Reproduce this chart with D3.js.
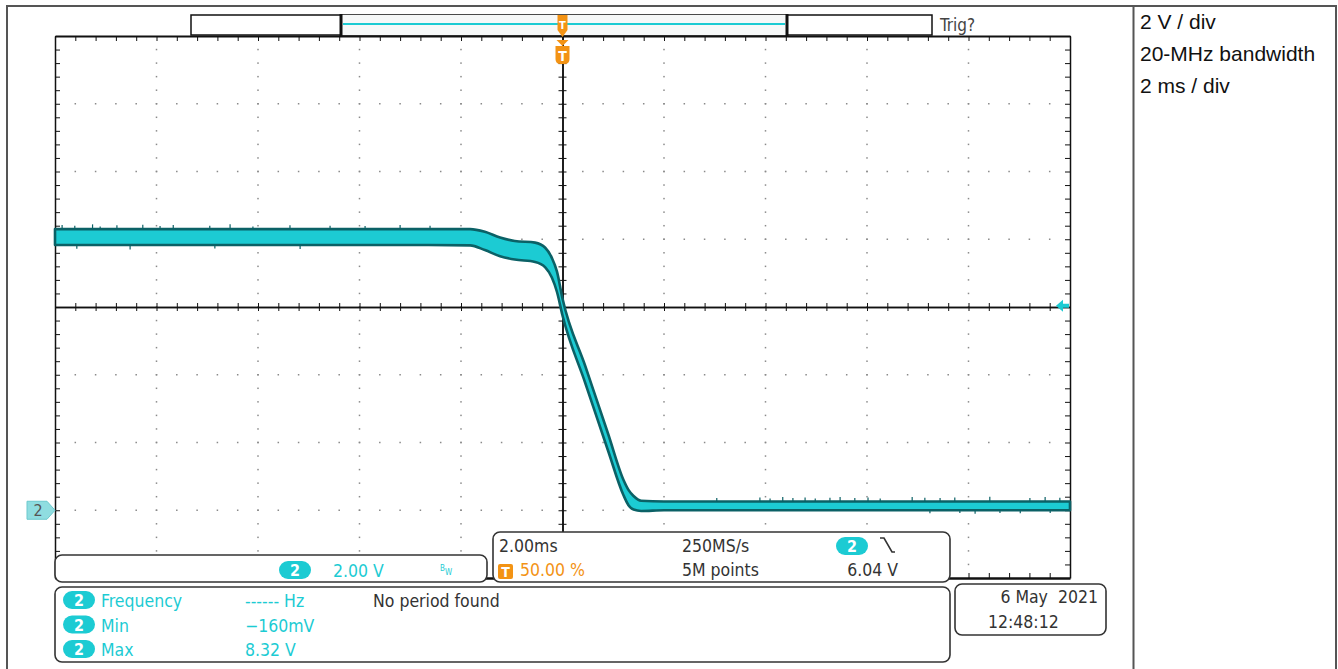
<!DOCTYPE html>
<html>
<head>
<meta charset="utf-8">
<script src="https://cdn.jsdelivr.net/npm/d3@7"></script>
<style>
  html, body { margin: 0; padding: 0; background: #fff; }
  svg { display: block; }
  .scope { font-family: 'DejaVu Sans Condensed', 'DejaVu Sans', sans-serif; font-stretch: condensed; }
  .note { font-family: 'Liberation Sans', Arial, sans-serif; }
</style>
</head>
<body>
<svg id="chart" width="1338" height="669"></svg>
<script>
// Channel 2 capture: time in ms relative to trigger, envelope of the trace in volts
const timeMs = [-10, -6, -3, -1.82, -1.53, -1.23, -0.94, -0.54, -0.34, -0.21, -0.11, 0, 0.45, 0.9, 1.2, 1.3, 1.4, 1.55, 2, 6, 10];
const upperV = [8.30, 8.30, 8.30, 8.30, 8.22, 8.05, 7.95, 7.90, 7.75, 7.45, 7.05, 6.25, 4.25, 2.25, 0.90, 0.60, 0.42, 0.28, 0.26, 0.26, 0.26];
const lowerV = [7.83, 7.83, 7.83, 7.82, 7.68, 7.50, 7.40, 7.33, 7.17, 6.87, 6.45, 5.75, 3.75, 1.75, 0.45, 0.15, 0.02, -0.02, 0.00, 0.00, 0.00];

// Noise glitches on the envelope edges: time (ms) and glitch extreme (V)
const glitchTimeMs = [-9.86, -9.61, -9.26, -9.11, -8.78, -8.27, -7.93, -7.67, -6.95, -6.55, -6.10, -5.37, -4.58, -3.89, -3.20, -2.61,
                      -9.57, -8.52, -6.85, -5.17,
                      3.04, 3.89, 4.09, 4.34, 4.54, 4.78, 4.98, 5.27, 5.47, 5.76, 6.02, 6.26, 6.89, 7.14, 7.44, 7.73, 8.42, 9.21, 9.51, 9.80,
                      7.24, 7.83, 8.13, 8.62, 9.02, 9.61];
const glitchBaseV = [8.30, 8.30, 8.30, 8.30, 8.30, 8.30, 8.30, 8.30, 8.30, 8.30, 8.30, 8.30, 8.30, 8.30, 8.30, 8.30,
                     7.83, 7.83, 7.83, 7.83,
                     0.26, 0.26, 0.26, 0.26, 0.26, 0.26, 0.26, 0.26, 0.26, 0.26, 0.26, 0.26, 0.26, 0.26, 0.26, 0.26, 0.26, 0.26, 0.26, 0.26,
                     0.00, 0.00, 0.00, 0.00, 0.00, 0.00];
const glitchPeakV = [8.42, 8.40, 8.44, 8.38, 8.41, 8.43, 8.39, 8.42, 8.40, 8.44, 8.38, 8.41, 8.40, 8.39, 8.42, 8.40,
                     7.72, 7.70, 7.73, 7.71,
                     0.36, 0.38, 0.35, 0.39, 0.36, 0.38, 0.35, 0.37, 0.39, 0.36, 0.38, 0.35, 0.39, 0.37, 0.36, 0.38, 0.40, 0.36, 0.39, 0.37,
                     -0.09, -0.08, -0.10, -0.08, -0.09, -0.08];

// Screen settings
const timeRangeMs = [-10, 10];      // 2 ms/div, 10 divisions
const voltRange = [-2, 14];         // 2 V/div, 8 divisions, ground 4 div below centre
const majorTimeTicks = d3.range(-10, 10.001, 2);
const minorTimeTicks = d3.range(-10, 10.001, 0.4);
const majorVoltTicks = d3.range(-2, 14.001, 2);
const minorVoltTicks = d3.range(-2, 14.001, 0.4);
const triggerLevelV = 6.04;
const centreVolt = 6;

// Readouts
const sideNotes = ["2 V / div", "20-MHz bandwidth", "2 ms / div"];
const measureNames = ["Frequency", "Min", "Max"];
const measureValues = ["------ Hz", "\u2212160mV", "8.32 V"];
const horizontalInfo = ["2.00ms", "250MS/s", "5M points", "6.04 V"];
const triggerPosition = "50.00 %";
const verticalScale = "2.00 V";
const dateLines = ["6 May\u00a0 2021", "12:48:12"];

const CYAN = "#1ccbd3";
const TEAL = "#0b6166";
const ORANGE = "#f39314";
const INK = "#333";

const svg = d3.select("#chart");
svg.append("rect").attr("width", 1338).attr("height", 669).attr("fill", "#fff");

// Page frame and side panel
svg.append("rect").attr("x", 7).attr("y", 6).attr("width", 1329).attr("height", 670)
  .attr("fill", "none").attr("stroke", "#555").attr("stroke-width", 2);
svg.append("line").attr("x1", 1133.5).attr("x2", 1133.5).attr("y1", 6).attr("y2", 669)
  .attr("stroke", "#555").attr("stroke-width", 2);
svg.append("g").attr("class", "note").selectAll("text").data(sideNotes).join("text")
  .attr("x", 1140).attr("y", (d, i) => 29 + i * 32)
  .attr("font-size", 21).attr("fill", "#111").text(d => d);

const plotLeft = 55, plotRight = 1070, plotTop = 36, plotBottom = 578;
const x = d3.scaleLinear().domain(timeRangeMs).range([plotLeft, plotRight]);
const y = d3.scaleLinear().domain(voltRange).range([plotBottom, plotTop]);

// Dotted graticule
const grid = svg.append("g").attr("fill", "#8a8a8a");
majorTimeTicks.filter(t => t > -10 && t < 10 && t !== 0).forEach(t => {
  grid.append("g").selectAll("rect").data(minorVoltTicks.filter(v => v > -2 && v < 14)).join("rect")
    .attr("x", x(t) - 0.75).attr("y", v => y(v) - 0.75).attr("width", 1.5).attr("height", 1.5);
});
majorVoltTicks.filter(v => v > -2 && v < 14 && v !== centreVolt).forEach(v => {
  grid.append("g").selectAll("rect").data(minorTimeTicks.filter(t => t > -10 && t < 10)).join("rect")
    .attr("x", t => x(t) - 0.75).attr("y", y(v) - 0.75).attr("width", 1.5).attr("height", 1.5);
});

// Centre cross with ticks
function styleAxis(g, w) {
  g.select(".domain").attr("stroke", "#111").attr("stroke-width", w);
  g.selectAll(".tick line").attr("stroke", "#111").attr("stroke-width", 1);
}
svg.append("g").attr("transform", `translate(0,${y(centreVolt)})`)
  .call(d3.axisBottom(x).tickValues(minorTimeTicks).tickSize(4).tickSizeOuter(0).tickFormat(""))
  .call(g => styleAxis(g, 1.5));
svg.append("g").attr("transform", `translate(0,${y(centreVolt)})`)
  .call(d3.axisTop(x).tickValues(minorTimeTicks).tickSize(4).tickSizeOuter(0).tickFormat(""))
  .call(g => styleAxis(g, 1.5));
svg.append("g").attr("transform", `translate(${x(0)},0)`)
  .call(d3.axisLeft(y).tickValues(minorVoltTicks).tickSize(4).tickSizeOuter(0).tickFormat(""))
  .call(g => styleAxis(g, 1.5));
svg.append("g").attr("transform", `translate(${x(0)},0)`)
  .call(d3.axisRight(y).tickValues(minorVoltTicks).tickSize(4).tickSizeOuter(0).tickFormat(""))
  .call(g => styleAxis(g, 1.5));

// Graticule border with inward ticks
svg.append("g").attr("transform", `translate(0,${plotTop})`)
  .call(d3.axisTop(x).tickValues(minorTimeTicks).tickSize(-5).tickSizeOuter(0).tickFormat(""))
  .call(g => styleAxis(g, 2));
svg.append("g").attr("transform", `translate(0,${plotBottom})`)
  .call(d3.axisBottom(x).tickValues(minorTimeTicks).tickSize(-5).tickSizeOuter(0).tickFormat(""))
  .call(g => styleAxis(g, 2.5));
svg.append("g").attr("transform", `translate(${plotLeft},0)`)
  .call(d3.axisLeft(y).tickValues(minorVoltTicks).tickSize(-5).tickSizeOuter(0).tickFormat(""))
  .call(g => styleAxis(g, 1.5));
svg.append("g").attr("transform", `translate(${plotRight},0)`)
  .call(d3.axisRight(y).tickValues(minorVoltTicks).tickSize(-5).tickSizeOuter(0).tickFormat(""))
  .call(g => styleAxis(g, 1.5));

// Waveform envelope
const trace = timeMs.map((t, i) => ({ t, hi: upperV[i], lo: lowerV[i] }));
const area = d3.area().x(d => x(d.t)).y0(d => y(d.lo)).y1(d => y(d.hi)).curve(d3.curveMonotoneX);
svg.append("path").datum(trace).attr("d", area)
  .attr("fill", CYAN).attr("stroke", TEAL).attr("stroke-width", 2.6).attr("stroke-linejoin", "round");

// Glitches on the envelope edges
svg.append("g").selectAll("line").data(glitchTimeMs).join("line")
  .attr("x1", d => x(d)).attr("x2", d => x(d))
  .attr("y1", (d, i) => y(glitchBaseV[i])).attr("y2", (d, i) => y(glitchPeakV[i]))
  .attr("stroke", TEAL).attr("stroke-width", 1.2);

// Trigger level marker (right edge) and channel ground marker (left edge)
const ty = y(triggerLevelV);
const pr = plotRight;
svg.append("path")
  .attr("d", `M${pr - 14},${ty} L${pr - 7},${ty - 6} L${pr - 7},${ty - 2} L${pr - 1},${ty - 2} L${pr - 1},${ty + 2} L${pr - 7},${ty + 2} L${pr - 7},${ty + 6} Z`)
  .attr("fill", CYAN);
const gy = y(0);
svg.append("path")
  .attr("d", `M27,${gy - 9} L47,${gy - 9} L55,${gy} L47,${gy + 9} L27,${gy + 9} Z`)
  .attr("fill", "#8fdde0").attr("stroke", "#6cc9cd").attr("stroke-width", 1);
svg.append("text").attr("class", "scope").attr("x", 38).attr("y", gy + 6)
  .attr("text-anchor", "middle").attr("font-size", 16).attr("fill", "#555").text("2");

// Record view bar
svg.append("rect").attr("x", 191).attr("y", 15).attr("width", 741).attr("height", 20)
  .attr("fill", "#fff").attr("stroke", "#111").attr("stroke-width", 1.5);
svg.append("rect").attr("x", 341).attr("y", 15).attr("width", 446).attr("height", 20)
  .attr("fill", "#f6f8f8").attr("stroke", "none");
svg.append("line").attr("x1", 343).attr("x2", 785).attr("y1", 24).attr("y2", 24)
  .attr("stroke", CYAN).attr("stroke-width", 2);
[341, 787].forEach(px => svg.append("line").attr("x1", px).attr("x2", px).attr("y1", 14).attr("y2", 36)
  .attr("stroke", "#111").attr("stroke-width", 3));
svg.append("text").attr("class", "scope").attr("x", 940).attr("y", 31)
  .attr("font-size", 17).attr("fill", "#444").text("Trig?");

// Trigger position markers
const tx = x(0);
svg.append("path")
  .attr("d", `M${tx - 5},15 L${tx + 5},15 L${tx + 5},30 L${tx},37 L${tx - 5},30 Z`).attr("fill", ORANGE);
svg.append("text").attr("class", "scope").attr("x", tx).attr("y", 29).attr("text-anchor", "middle")
  .attr("font-size", 11).attr("font-weight", "bold").attr("fill", "#fff").text("T");
svg.append("path")
  .attr("d", `M${tx - 6},40 L${tx + 6},40 L${tx},46 Z`).attr("fill", ORANGE);
svg.append("path")
  .attr("d", `M${tx - 7},46 L${tx + 7},46 L${tx + 7},59 Q${tx + 7},64 ${tx + 2},64 L${tx - 2},64 Q${tx - 7},64 ${tx - 7},59 Z`)
  .attr("fill", ORANGE);
svg.append("text").attr("class", "scope").attr("x", tx).attr("y", 61).attr("text-anchor", "middle")
  .attr("font-size", 14).attr("font-weight", "bold").attr("fill", "#fff").text("T");

// Readout boxes
function box(x0, y0, x1, y1) {
  svg.append("rect").attr("x", x0).attr("y", y0).attr("width", x1 - x0).attr("height", y1 - y0)
    .attr("rx", 7).attr("fill", "#fff").attr("stroke", "#333").attr("stroke-width", 1.6);
}
function badge(cx, cy) {
  svg.append("rect").attr("x", cx - 16).attr("y", cy - 9).attr("width", 32).attr("height", 18)
    .attr("rx", 9).attr("fill", CYAN);
  svg.append("text").attr("class", "scope").attr("x", cx).attr("y", cy + 6).attr("text-anchor", "middle")
    .attr("font-size", 16).attr("font-weight", "bold").attr("fill", "#fff").text("2");
}
function label(px, py, txt, color, anchor) {
  svg.append("text").attr("class", "scope").attr("x", px).attr("y", py)
    .attr("text-anchor", anchor || "start").attr("font-size", 17.5).attr("fill", color).text(txt);
}

box(55, 555, 487, 582);
badge(295, 570);
label(333, 577, verticalScale, CYAN);
svg.append("text").attr("class", "scope").attr("x", 440).attr("y", 571).attr("font-size", 8).attr("fill", CYAN).text("B");
svg.append("text").attr("class", "scope").attr("x", 445).attr("y", 575).attr("font-size", 8).attr("fill", CYAN).text("W");

box(493, 532, 950, 582);
label(499, 552, horizontalInfo[0], INK);
label(682, 552, horizontalInfo[1], INK);
label(682, 576, horizontalInfo[2], INK);
label(898, 576, horizontalInfo[3], INK, "end");
svg.append("rect").attr("x", 498).attr("y", 564).attr("width", 15).attr("height", 15).attr("rx", 2).attr("fill", ORANGE);
svg.append("text").attr("class", "scope").attr("x", 505.5).attr("y", 577).attr("text-anchor", "middle")
  .attr("font-size", 14).attr("font-weight", "bold").attr("fill", "#fff").text("T");
label(520, 576, triggerPosition, ORANGE);
badge(852, 546);
svg.append("path").attr("d", "M880,538 L884,538 L892,552 L895,552")
  .attr("fill", "none").attr("stroke", INK).attr("stroke-width", 1.6);

box(55, 587, 950, 662);
measureNames.forEach((name, i) => {
  const by = 600 + i * 24.5;
  badge(79, by);
  label(101, by + 7, name, CYAN);
  label(245, by + 7, measureValues[i], CYAN);
});
label(373, 607, "No period found", INK);

box(955, 584, 1106, 635);
label(1098, 603, dateLines[0], INK, "end");
label(988, 628, dateLines[1], INK);
</script>
</body>
</html>
